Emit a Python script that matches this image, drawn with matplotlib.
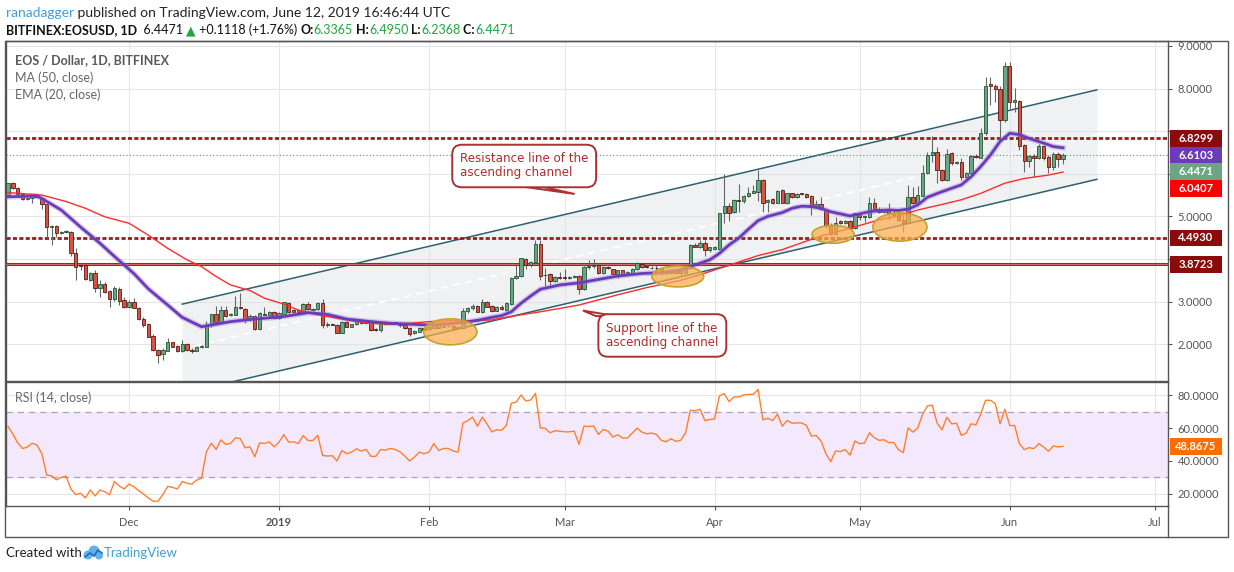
import numpy as np
import pandas as pd
import matplotlib
matplotlib.use('Agg')
import matplotlib.pyplot as plt
import matplotlib.dates as mdates
import matplotlib.transforms as mtransforms
from matplotlib.patches import Ellipse, Rectangle, Polygon
from matplotlib.ticker import FuncFormatter

plt.rcParams['font.family'] = ['Lato', 'DejaVu Sans']

### Data ###
first_day = '2018-11-06'

opens = [5.50, 5.78, 5.66, 5.52, 5.41, 5.42, 5.50, 5.44, 5.29, 4.75,
         4.78, 4.61, 4.63, 4.64, 4.13, 3.86, 3.86, 3.51, 3.66, 3.31,
         3.41, 3.24, 3.05, 3.30, 3.04, 2.88, 2.99, 2.86, 2.58, 2.47,
         2.19, 1.86, 1.76, 1.85, 2.04, 1.95, 1.85, 2.00, 1.87, 1.85,
         1.93, 1.94, 2.45, 2.71, 2.51, 2.80, 2.69, 2.69, 2.88, 2.82,
         2.58, 2.66, 2.35, 2.72, 2.68, 2.75, 2.62, 2.72, 2.96, 2.80,
         2.80, 2.74, 2.94, 2.81, 2.83, 2.96, 2.44, 2.47, 2.45, 2.27,
         2.52, 2.41, 2.47, 2.55, 2.49, 2.51, 2.36, 2.33, 2.47, 2.48,
         2.51, 2.49, 2.45, 2.37, 2.26, 2.29, 2.37, 2.35, 2.37, 2.50,
         2.41, 2.42, 2.43, 2.38, 2.37, 2.77, 2.85, 2.90, 2.76, 3.00,
         2.90, 2.79, 2.87, 2.80, 2.94, 3.55, 3.59, 4.00, 3.86, 3.94,
         4.35, 3.62, 3.64, 3.49, 3.57, 3.58, 3.55, 3.57, 3.60, 3.29,
         3.82, 3.84, 3.86, 3.66, 3.82, 3.76, 3.65, 3.73, 3.68, 3.65,
         3.76, 3.88, 3.84, 3.78, 3.80, 3.78, 3.68, 3.66, 3.72, 3.66,
         3.68, 3.78, 4.33, 4.29, 4.37, 4.20, 4.24, 4.24, 5.07, 5.24,
         5.11, 5.39, 5.37, 5.47, 5.55, 5.58, 5.86, 5.33, 5.40, 5.32,
         5.62, 5.32, 5.54, 5.46, 5.54, 5.52, 5.48, 5.25, 5.29, 5.15,
         4.80, 4.59, 4.89, 4.84, 4.89, 4.72, 5.07, 4.98, 4.98, 5.31,
         5.17, 5.11, 5.15, 5.04, 5.07, 4.92, 4.84, 5.45, 5.32, 5.48,
         6.01, 6.44, 6.50, 6.09, 5.86, 6.48, 6.26, 6.28, 5.92, 6.01,
         6.42, 6.38, 6.95, 8.11, 8.05, 8.00, 7.26, 8.53, 7.69, 7.72,
         6.68, 6.29, 6.42, 6.36, 6.65, 6.39, 6.15, 6.47, 6.3365]

highs = [5.79, 5.81, 5.70, 5.54, 5.45, 5.52, 5.52, 5.46, 5.31, 4.80,
         4.80, 4.66, 4.69, 4.66, 4.25, 3.91, 3.91, 3.70, 3.74, 3.51,
         3.45, 3.27, 3.36, 3.34, 3.10, 3.04, 3.08, 2.88, 2.64, 2.49,
         2.25, 1.88, 1.90, 2.14, 2.06, 1.97, 2.10, 2.02, 1.90, 1.95,
         1.98, 2.55, 2.72, 2.90, 2.90, 2.90, 2.73, 3.12, 3.19, 2.84,
         2.70, 2.69, 2.75, 2.88, 2.77, 2.77, 2.76, 3.00, 2.98, 2.83,
         2.82, 2.97, 2.98, 2.86, 3.00, 3.05, 2.53, 2.49, 2.47, 2.55,
         2.54, 2.48, 2.58, 2.57, 2.53, 2.53, 2.37, 2.49, 2.50, 2.52,
         2.53, 2.52, 2.46, 2.41, 2.33, 2.41, 2.40, 2.42, 2.52, 2.52,
         2.44, 2.44, 2.45, 2.40, 2.84, 2.88, 2.94, 2.92, 3.05, 3.02,
         2.92, 2.89, 2.92, 2.98, 3.57, 3.87, 4.03, 4.02, 3.95, 4.45,
         4.45, 3.80, 3.66, 3.59, 3.70, 3.76, 3.60, 3.62, 3.62, 3.84,
         3.97, 3.99, 3.90, 3.84, 3.84, 3.77, 3.74, 3.75, 3.71, 3.78,
         3.93, 3.90, 3.86, 3.83, 3.86, 3.80, 3.70, 3.72, 3.74, 3.74,
         3.82, 4.35, 4.37, 4.45, 4.45, 4.29, 4.31, 5.09, 5.99, 5.31,
         5.40, 5.76, 5.50, 5.70, 5.74, 6.09, 5.87, 5.40, 5.43, 5.62,
         5.64, 5.55, 5.56, 5.54, 5.56, 5.55, 5.50, 5.39, 5.45, 5.17,
         4.84, 4.98, 4.92, 4.92, 4.91, 5.09, 5.09, 5.04, 5.45, 5.43,
         5.23, 5.17, 5.32, 5.15, 5.17, 5.03, 5.74, 5.70, 5.71, 6.21,
         6.52, 6.89, 6.64, 6.11, 6.58, 6.50, 6.30, 6.36, 6.05, 6.45,
         6.47, 7.07, 8.28, 8.28, 8.10, 8.05, 8.63, 8.63, 8.01, 7.73,
         6.70, 6.44, 6.47, 6.71, 6.68, 6.44, 6.50, 6.50, 6.4950]

lows = [5.48, 5.64, 5.50, 5.39, 5.39, 5.31, 5.44, 5.17, 4.52, 4.33,
        4.52, 4.58, 4.60, 4.07, 3.51, 3.74, 3.51, 3.48, 3.23, 3.10,
        3.20, 2.88, 3.02, 2.92, 2.84, 2.84, 2.84, 2.57, 2.41, 2.16,
        1.85, 1.57, 1.63, 1.83, 1.93, 1.82, 1.82, 1.83, 1.79, 1.83,
        1.92, 1.93, 2.41, 2.49, 2.49, 2.65, 2.66, 2.68, 2.82, 2.49,
        2.55, 2.33, 2.33, 2.68, 2.66, 2.60, 2.60, 2.71, 2.74, 2.74,
        2.73, 2.72, 2.80, 2.78, 2.81, 2.37, 2.41, 2.44, 2.26, 2.26,
        2.41, 2.40, 2.45, 2.48, 2.48, 2.32, 2.32, 2.29, 2.46, 2.47,
        2.47, 2.41, 2.36, 2.19, 2.24, 2.28, 2.33, 2.33, 2.36, 2.37,
        2.40, 2.41, 2.35, 2.36, 2.36, 2.74, 2.80, 2.75, 2.74, 2.87,
        2.76, 2.77, 2.80, 2.78, 2.92, 3.53, 3.57, 3.77, 3.82, 3.92,
        3.51, 3.37, 3.39, 3.47, 3.52, 3.51, 3.53, 3.55, 3.18, 3.27,
        3.76, 3.78, 3.65, 3.64, 3.76, 3.62, 3.55, 3.63, 3.63, 3.64,
        3.74, 3.80, 3.79, 3.76, 3.62, 3.62, 3.64, 3.64, 3.66, 3.62,
        3.66, 3.77, 4.27, 4.25, 4.07, 4.17, 4.21, 4.22, 4.84, 4.90,
        5.09, 5.11, 5.31, 5.45, 5.54, 5.35, 5.11, 5.11, 5.30, 5.31,
        5.31, 5.30, 5.44, 5.44, 5.50, 5.44, 5.03, 5.23, 5.15, 4.72,
        4.56, 4.56, 4.82, 4.82, 4.70, 4.70, 4.92, 4.88, 4.96, 5.15,
        5.07, 5.09, 4.92, 4.99, 4.90, 4.64, 4.82, 5.29, 5.29, 5.46,
        5.99, 6.28, 5.79, 5.84, 5.84, 6.21, 6.22, 5.85, 5.88, 5.99,
        6.36, 6.36, 6.91, 7.62, 7.69, 6.86, 7.22, 7.50, 7.46, 6.57,
        6.05, 6.15, 5.93, 6.34, 6.32, 6.01, 6.10, 6.17, 6.2368]

closes = [5.78, 5.66, 5.53, 5.40, 5.43, 5.50, 5.46, 5.29, 4.76, 4.78,
          4.60, 4.64, 4.66, 4.13, 3.82, 3.83, 3.52, 3.66, 3.31, 3.41,
          3.23, 3.05, 3.32, 3.02, 2.88, 2.98, 2.86, 2.58, 2.45, 2.18,
          1.86, 1.75, 1.86, 2.04, 1.94, 1.84, 2.00, 1.86, 1.85, 1.93,
          1.96, 2.45, 2.71, 2.51, 2.80, 2.66, 2.71, 2.87, 2.84, 2.57,
          2.66, 2.35, 2.73, 2.69, 2.75, 2.62, 2.74, 2.98, 2.76, 2.76,
          2.75, 2.94, 2.82, 2.83, 2.96, 2.44, 2.47, 2.46, 2.27, 2.53,
          2.41, 2.47, 2.55, 2.49, 2.52, 2.33, 2.33, 2.47, 2.49, 2.51,
          2.48, 2.44, 2.37, 2.24, 2.32, 2.39, 2.34, 2.41, 2.50, 2.39,
          2.43, 2.43, 2.36, 2.39, 2.78, 2.84, 2.90, 2.76, 3.00, 2.88,
          2.79, 2.87, 2.82, 2.96, 3.55, 3.61, 4.02, 3.87, 3.94, 4.35,
          3.61, 3.63, 3.48, 3.57, 3.55, 3.56, 3.57, 3.60, 3.29, 3.82,
          3.84, 3.85, 3.66, 3.82, 3.78, 3.65, 3.73, 3.65, 3.69, 3.76,
          3.91, 3.82, 3.81, 3.80, 3.78, 3.66, 3.66, 3.72, 3.68, 3.72,
          3.80, 4.33, 4.29, 4.37, 4.20, 4.27, 4.27, 5.07, 5.24, 5.07,
          5.38, 5.37, 5.48, 5.56, 5.60, 5.86, 5.32, 5.38, 5.32, 5.60,
          5.32, 5.54, 5.46, 5.52, 5.52, 5.46, 5.23, 5.28, 5.17, 4.78,
          4.59, 4.85, 4.84, 4.89, 4.72, 5.07, 4.98, 5.02, 5.31, 5.17,
          5.11, 5.15, 5.06, 5.07, 4.92, 4.84, 5.45, 5.32, 5.50, 6.01,
          6.44, 6.50, 6.08, 5.86, 6.47, 6.25, 6.28, 5.92, 6.03, 6.42,
          6.40, 6.95, 8.06, 8.05, 8.00, 7.26, 8.53, 7.69, 7.73, 6.65,
          6.29, 6.42, 6.36, 6.65, 6.36, 6.15, 6.47, 6.34, 6.4471]

rsi = [61.0, 56.4, 51.0, 47.6, 48.4, 50.8, 49.6, 44.4, 31.4, 31.0,
       28.6, 30.0, 30.8, 23.0, 19.6, 20.4, 17.6, 22.4, 18.8, 22.4,
       21.4, 19.6, 27.6, 24.8, 23.0, 26.0, 24.4, 22.0, 20.0, 17.6,
       15.6, 15.6, 19.6, 24.6, 24.0, 23.0, 27.6, 26.4, 26.0, 28.4,
       29.6, 45.6, 50.8, 47.0, 52.8, 50.0, 50.6, 54.0, 53.6, 48.0,
       48.6, 42.6, 51.0, 50.6, 51.6, 48.6, 51.4, 56.0, 51.4, 51.6,
       50.6, 55.4, 52.4, 52.4, 55.6, 43.4, 43.0, 43.2, 40.0, 46.4,
       44.4, 45.4, 47.4, 46.0, 47.0, 42.8, 42.8, 47.0, 46.6, 47.6,
       47.0, 45.6, 43.0, 40.0, 42.4, 45.4, 44.4, 45.4, 50.6, 46.4,
       47.6, 47.6, 46.0, 45.4, 63.0, 64.4, 66.6, 61.0, 66.6, 62.4,
       57.6, 59.0, 58.6, 61.6, 75.0, 75.6, 80.0, 76.4, 77.0, 81.0,
       60.0, 59.9, 57.1, 58.3, 58.1, 57.7, 57.7, 58.1, 50.1, 61.1,
       60.9, 61.3, 56.1, 59.1, 58.1, 54.5, 55.9, 53.9, 53.9, 56.9,
       59.9, 57.5, 56.5, 56.9, 56.1, 52.5, 51.7, 53.5, 51.9, 52.5,
       56.9, 70.8, 70.4, 71.4, 64.5, 65.1, 65.5, 79.4, 80.8, 76.0,
       78.8, 78.8, 80.0, 80.4, 80.4, 83.4, 64.9, 65.9, 64.5, 68.4,
       61.1, 64.5, 62.9, 63.1, 63.1, 61.5, 55.1, 55.5, 52.1, 44.5,
       39.6, 46.1, 45.7, 46.9, 43.5, 52.1, 50.5, 50.9, 57.1, 54.1,
       52.5, 52.9, 51.1, 51.3, 46.9, 45.1, 60.1, 57.5, 60.1, 68.4,
       73.4, 73.8, 62.9, 58.9, 66.5, 62.5, 62.9, 55.5, 56.9, 62.5,
       61.9, 68.4, 76.8, 76.8, 74.8, 62.5, 71.4, 61.5, 61.5, 50.5,
       46.9, 48.1, 47.5, 50.5, 48.5, 45.9, 49.1, 48.5, 48.8675]

# EMA (20) purple line, sampled (day offset, value)
ema_day = [0, 6, 7, 11, 15, 19, 22, 26, 29, 33, 36, 40, 43, 46, 50, 53, 57, 62,
           66, 70, 75, 79, 83, 87, 91, 94, 97, 100, 102, 104, 106, 108, 110, 114,
           118, 122, 126, 131, 135, 139, 143, 145, 147, 149, 151, 153, 155, 157,
           160, 162, 164, 166, 168, 170, 172, 174, 176, 178, 180, 182, 184, 186,
           188, 190, 193, 195, 197, 199, 201, 203, 205, 207, 209, 211, 214, 216, 218]
ema_val = [5.46, 5.48, 5.42, 5.15, 4.75, 4.37, 4.06, 3.66, 3.30, 2.92, 2.63, 2.41,
           2.47, 2.53, 2.58, 2.61, 2.65, 2.74, 2.70, 2.59, 2.53, 2.49, 2.47, 2.45,
           2.48, 2.51, 2.56, 2.63, 2.67, 2.76, 2.96, 3.13, 3.29, 3.39, 3.44, 3.52,
           3.60, 3.66, 3.68, 3.74, 3.90, 3.98, 4.13, 4.33, 4.49, 4.70, 4.90, 5.00,
           5.09, 5.19, 5.24, 5.23, 5.19, 5.11, 5.06, 5.01, 5.06, 5.11, 5.14, 5.15,
           5.14, 5.17, 5.27, 5.45, 5.58, 5.66, 5.74, 5.93, 6.17, 6.44, 6.76, 6.95,
           6.92, 6.83, 6.72, 6.64, 6.61]

# MA (50) red line, sampled (day offset, value)
ma_day = [0, 7, 12, 16, 20, 25, 29, 33, 37, 40, 43, 46, 50, 53, 57, 60, 64, 67,
          71, 75, 79, 83, 87, 91, 96, 100, 102, 106, 110, 114, 118, 122, 126, 132,
          135, 139, 143, 147, 151, 155, 160, 164, 168, 174, 180, 184, 188, 193,
          197, 201, 206, 210, 215, 218]
ma_val = [5.56, 5.50, 5.35, 5.19, 4.99, 4.84, 4.56, 4.25, 3.98, 3.82, 3.59, 3.39,
          3.26, 3.08, 2.94, 2.80, 2.69, 2.63, 2.55, 2.49, 2.47, 2.49, 2.53, 2.55,
          2.55, 2.57, 2.61, 2.69, 2.76, 2.84, 2.92, 3.04, 3.16, 3.33, 3.40, 3.50,
          3.63, 3.78, 3.93, 4.08, 4.22, 4.38, 4.54, 4.72, 4.92, 5.01, 5.15, 5.28,
          5.39, 5.54, 5.78, 5.89, 5.97, 6.04]

# ascending channel (day offset, price)
channel_day = [36, 225]
channel_up = [2.94, 7.97]
channel_low = [0.84, 5.87]

resistance = 6.8299
support_mid = 4.4930
support_low = 3.8723
last_close = 6.4471
ema_last = 6.6103
ma_last = 6.0407
rsi_last = 48.8675

month_starts = ['2018-12-01', '2019-01-01', '2019-02-01', '2019-03-01',
                '2019-04-01', '2019-05-01', '2019-06-01', '2019-07-01']
month_labels = ['Dec', '2019', 'Feb', 'Mar', 'Apr', 'May', 'Jun', 'Jul']

# price scale labels that the tags do not cover
price_ticks = [2, 3, 4, 5, 6, 7, 8, 9]
price_labelled = [2, 3, 5, 8, 9]

# highlighted zones: (day offset, price, width in days, height in price)
zones = [(91.4, 2.29, 11.0, 0.61),
         (138.4, 3.59, 10.7, 0.49),
         (170.5, 4.58, 8.7, 0.42),
         (184.3, 4.75, 11.2, 0.66)]

### Plotting ###
W, H = 1234, 572
fig = plt.figure(figsize=(W / 100, H / 100), dpi=100)
fig.patch.set_facecolor('white')


def fx(px):
    return px / W


def fy(py):
    return 1 - py / H


ax = fig.add_axes([fx(6), fy(381), fx(1168) - fx(6), (381 - 41) / H])
axr = fig.add_axes([fx(6), fy(506), fx(1168) - fx(6), (506 - 382) / H], sharex=ax)

dates = pd.date_range(first_day, periods=len(closes), freq='D')
xd = mdates.date2num(dates)
d0 = xd[0]
o = np.array(opens)
hi = np.array(highs)
lo = np.array(lows)
c = np.array(closes)
up = c >= o

# grid
for a in (ax, axr):
    a.set_axisbelow(True)
    a.grid(True, color='#e6e6e6', lw=0.8)
    for s in a.spines.values():
        s.set_color('#555555')
        s.set_linewidth(1.0)

# channel
ch_x = d0 + np.array(channel_day)
ax.fill_between(ch_x, channel_low, channel_up, color='#dde1e6', alpha=0.45, lw=0, zorder=1)
ax.plot(ch_x, channel_up, color='#2e6070', lw=1.1, zorder=2)
ax.plot(ch_x, channel_low, color='#2e6070', lw=1.1, zorder=2)
mid = (np.array(channel_up) + np.array(channel_low)) / 2
ax.plot(ch_x, mid, color='white', lw=1.3, ls=(0, (4, 3)), zorder=2.2)

# horizontal levels
ax.axhline(resistance, color='#9b1c1c', lw=2.0, ls=(0, (1.5, 0.8)), zorder=2.5)
ax.axhline(support_mid, color='#9b1c1c', lw=2.0, ls=(0, (1.5, 0.8)), zorder=2.5)
ax.axhline(support_low, color='#a52222', lw=2.2, zorder=2.5)
ax.axhline(support_low, color='#e08a8a', lw=0.5, zorder=2.6)
ax.axhline(last_close, color='#4f9a6c', lw=0.8, ls=(0, (1, 2)), zorder=2.5)

# candles
ax.vlines(xd, lo, hi, colors='#666666', lw=0.8, zorder=3)
ax.bar(xd, np.maximum(np.abs(c - o), 0.015), bottom=np.minimum(o, c), width=0.7,
       color=np.where(up, '#6ba583', '#d75442'),
       edgecolor=np.where(up, '#225437', '#5b1a13'), linewidth=0.6, zorder=4)

# moving averages
ema_x = d0 + np.array(ema_day)
ax.plot(ema_x, ema_val, color='#9575cd', lw=4, alpha=0.35, zorder=5)
ax.plot(ema_x, ema_val, color='#6a3cbc', lw=2.0, zorder=5.1)
ax.plot(d0 + np.array(ma_day), ma_val, color='#ff2b2b', lw=1.0, zorder=5)

# orange zones
for zd, zp, zw, zh in zones:
    ax.add_patch(Ellipse((d0 + zd, zp), zw, zh, facecolor=(0.98, 0.68, 0.30, 0.72),
                         edgecolor='#c9a02c', lw=1.2, zorder=6))

# callouts
ax.add_patch(Polygon([(d0 + 105.0, 5.72), (d0 + 109.5, 5.72), (d0 + 117.1, 5.526)],
                     closed=True, facecolor='white', edgecolor='#a83232', lw=1.4, zorder=7))
ax.text(d0 + 93.4, 6.183, 'Resistance line of the\nascending channel', family='DejaVu Sans',
        fontsize=8.6, color='#b22b2b', ha='left', va='center', linespacing=1.1, zorder=8,
        bbox=dict(boxstyle='round,pad=0.65,rounding_size=0.8', fc='white', ec='#a83232', lw=1.4))

ax.add_patch(Polygon([(d0 + 121.5, 2.66), (d0 + 125.6, 2.66), (d0 + 118.8, 2.79)],
                     closed=True, facecolor='white', edgecolor='#a83232', lw=1.4, zorder=7))
ax.text(d0 + 123.6, 2.205, 'Support line of the\nascending channel', family='DejaVu Sans',
        fontsize=8.6, color='#b22b2b', ha='left', va='center', linespacing=1.1, zorder=8,
        bbox=dict(boxstyle='round,pad=0.65,rounding_size=0.8', fc='white', ec='#a83232', lw=1.4))

# RSI panel
axr.axhspan(30, 70, color='#f3e8fc', zorder=0.6)
axr.axhline(70, color='#aaa2b8', lw=0.9, ls=(0, (5, 4)), zorder=1)
axr.axhline(30, color='#aaa2b8', lw=0.9, ls=(0, (5, 4)), zorder=1)
axr.plot(xd, rsi, color='#ff7f2a', lw=1.0, zorder=3)

# axes ranges and ticks
ax.set_xlim(d0 - 0.41, d0 + 239.7)
ax.set_ylim(1.136, 9.117)
axr.set_ylim(12.7, 87.9)
ax.set_yticks(price_ticks)
axr.set_yticks([20, 40, 60, 80])
ax.yaxis.set_major_formatter(FuncFormatter(
    lambda v, p: '%.4f' % v if round(v) in price_labelled else ''))
axr.yaxis.set_major_formatter(FuncFormatter(lambda v, p: '%.4f' % v))
for a in (ax, axr):
    a.yaxis.tick_right()
    a.tick_params(axis='y', direction='out', length=3, width=0.8, colors='#555555',
                  labelsize=8, pad=4)
    a.set_facecolor('white')

axr.set_xticks(mdates.date2num(pd.to_datetime(month_starts)))
axr.set_xticklabels(month_labels)
axr.tick_params(axis='x', direction='out', length=3, width=0.8, colors='#555555',
                labelsize=8, pad=5)
axr.get_xticklabels()[1].set_fontweight('bold')
ax.tick_params(axis='x', length=0, labelbottom=False)


# price tags on the right scale
def price_tag(a, y, text, color, h):
    tr = mtransforms.blended_transform_factory(a.transAxes, a.transData)
    x0 = (1170 - 6) / 1162
    wid = 52 / 1162
    a.add_patch(Rectangle((x0, y - h / 2), wid, h, transform=tr, facecolor=color,
                          edgecolor='none', clip_on=False, zorder=20))
    a.text(x0 + wid / 2, y, text, transform=tr, color='white', fontsize=8,
           fontweight='bold', ha='center', va='center', clip_on=False, zorder=21)


tag_h = 16.7 / 42.6
price_tag(ax, 6.833, '%.4f' % resistance, '#8b0a0a', tag_h)
price_tag(ax, 6.441, '%.4f' % ema_last, '#6a3cbc', tag_h)
price_tag(ax, 6.048, '%.4f' % last_close, '#6ba583', tag_h)
price_tag(ax, 5.656, '%.4f' % ma_last, '#ff0000', tag_h)
price_tag(ax, support_mid, '%.4f' % support_mid, '#8b0a0a', tag_h)
price_tag(ax, support_low, '%.4f' % support_low, '#8b0a0a', tag_h)
price_tag(axr, rsi_last, '%.4f' % rsi_last, '#ff6d00', 17 / 1.65)

# legends inside panels
fig.text(fx(15), fy(60), 'EOS / Dollar, 1D, BITFINEX', fontsize=9, color='#5a5a5a',
         fontweight='bold', va='center')
fig.text(fx(15), fy(78), 'MA (50, close)', fontsize=9, color='#666666', va='center')
fig.text(fx(15), fy(95), 'EMA (20, close)', fontsize=9, color='#666666', va='center')
fig.text(fx(15), fy(398), 'RSI (14, close)', fontsize=9, color='#666666', va='center')

# outer frame
fig.add_artist(Rectangle((fx(5), fy(537)), fx(1228) - fx(5), (537 - 41) / H,
                         transform=fig.transFigure, fill=False, edgecolor='#555555', lw=1.0))
fig.add_artist(plt.Line2D([fx(1168), fx(1168)], [fy(506), fy(537)],
                          transform=fig.transFigure, color='#555555', lw=1.0))

# header and footer text pieces
renderer = fig.canvas.get_renderer()


def put_parts(x_px, y_px, parts, size):
    x = fx(x_px)
    for txt, color, weight in parts:
        t = fig.text(x, fy(y_px), txt, color=color, fontsize=size, fontweight=weight,
                     va='center', ha='left')
        x += t.get_window_extent(renderer=renderer).width / W


green = '#1fa83a'
put_parts(6, 13, [('ranadagger', '#3d9fdc', 'normal'),
                  (' published on TradingView.com, June 12, 2019 16:46:44 UTC', '#222222', 'normal')], 10)
put_parts(6, 30, [('BITFINEX:EOSUSD, 1D', '#111111', 'bold'),
                  ('  6.4471 ', '#111111', 'normal'),
                  ('\u25b2', green, 'normal'),
                  (' +0.1118 (+1.76%) ', '#111111', 'normal'),
                  ('O:', '#111111', 'bold'), ('6.3365', green, 'normal'),
                  (' H:', '#111111', 'bold'), ('6.4950', green, 'normal'),
                  (' L:', '#111111', 'bold'), ('6.2368', green, 'normal'),
                  (' C:', '#111111', 'bold'), ('6.4471', green, 'normal')], 9)

fig.text(fx(6), fy(553), 'Created with', fontsize=9.5, color='#222222', va='center')
# small cloud logo
for cx, cy, r in [(88, 555, 4.5), (94, 551, 5.5), (99, 555.5, 4)]:
    fig.add_artist(Ellipse((fx(cx), fy(cy)), 2 * r / W, 2 * r / H, transform=fig.transFigure,
                           facecolor='#5fb3ea', edgecolor='none'))
fig.add_artist(plt.Line2D([fx(85), fx(90), fx(94), fx(98), fx(102)],
                          [fy(557), fy(553), fy(556), fy(550), fy(553)],
                          transform=fig.transFigure, color='#1c6fb5', lw=1.2))
fig.text(fx(104), fy(553), 'TradingView', fontsize=9.5, color='#3d9fdc', va='center')

fig.savefig('out.png', dpi=100)
